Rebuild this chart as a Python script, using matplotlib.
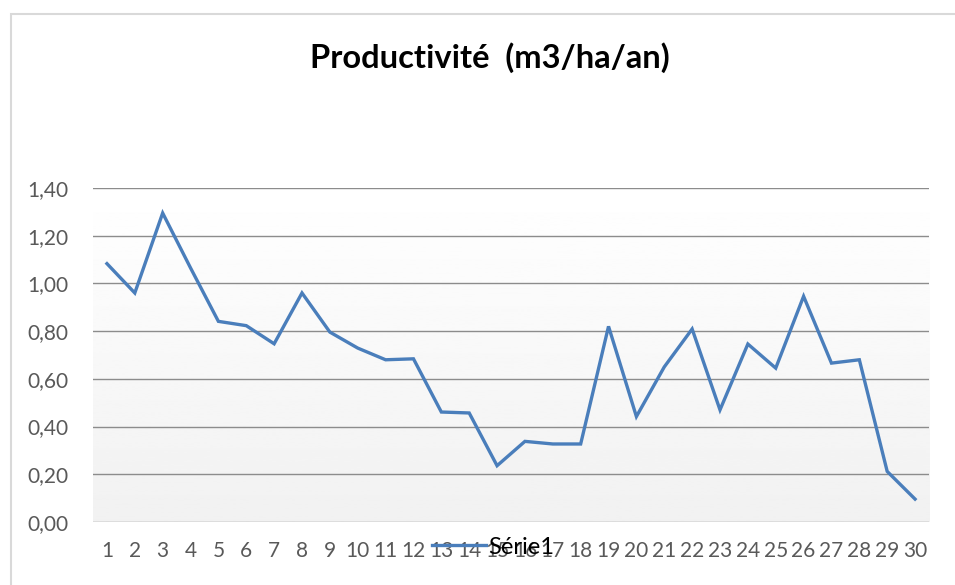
import numpy as np
import matplotlib.pyplot as plt
from matplotlib.patches import Rectangle
from matplotlib.ticker import FuncFormatter

# data
categories = list(range(1, 31))
serie1 = [1.083, 0.960, 1.295, 1.065, 0.841, 0.823, 0.747, 0.960, 0.796, 0.729,
          0.680, 0.684, 0.461, 0.457, 0.236, 0.338, 0.327, 0.327, 0.820, 0.442,
          0.650, 0.809, 0.470, 0.746, 0.645, 0.946, 0.666, 0.680, 0.212, 0.096]
y_ticks = [0.0, 0.2, 0.4, 0.6, 0.8, 1.0, 1.2, 1.4]

plt.rcParams['font.family'] = ['Lato', 'DejaVu Sans']

fig = plt.figure(figsize=(9.55, 5.85), dpi=100)
W, H = 955, 585

# chart frame (cropped at right/bottom in the original)
fig.patches.append(Rectangle((11 / W, -0.1), 1.2, 1 - 14 / H + 0.1,
                             transform=fig.transFigure, fill=False,
                             edgecolor='#d9d9d9', linewidth=1.5))

ax = fig.add_axes([93 / W, 1 - 522 / H, (929 - 93) / W, (522 - 188) / H])
x = np.arange(len(categories))

# gradient plot-area fill, white at top to light grey at bottom
grad = np.linspace(1.0, 0.945, 256).reshape(-1, 1)
ax.imshow(grad, cmap='gray', vmin=0, vmax=1, aspect='auto', origin='upper',
          extent=(-0.5, len(categories) - 0.5, 0, 1.4), zorder=0)
ax.set_xlim(-0.5, len(categories) - 0.5)
ax.set_ylim(0, 1.4)

for v in y_ticks[1:]:
    ax.axhline(v, color='#8c8c8c', linewidth=1.0, zorder=1)
ax.axhline(0, color='#d9d9d9', linewidth=1.2, zorder=1)

line, = ax.plot(x, serie1, color='#4a7ebb', linewidth=2.4, zorder=3,
                solid_joinstyle='miter', label='Série1')

for s in ax.spines.values():
    s.set_visible(False)

ax.set_yticks(y_ticks)
ax.yaxis.set_major_formatter(FuncFormatter(lambda v, p: f"{v:.2f}".replace('.', ',')))
ax.set_xticks(x, labels=[str(c) for c in categories])
ax.tick_params(axis='both', length=0, labelsize=15, labelcolor='#595959')
ax.tick_params(axis='x', pad=14)
ax.tick_params(axis='y', pad=18)

fig.text(490 / W, 1 - 58 / H, 'Productivité  (m3/ha/an)', ha='center', va='center',
         fontsize=23.5, fontweight='bold', color='black')

fig.legend(handles=[line], loc='center', bbox_to_anchor=(493 / W, 1 - 547 / H),
           frameon=False, fontsize=17, handlelength=2.3, handletextpad=0.1,
           borderpad=0)

fig.savefig('out.png', dpi=100)
